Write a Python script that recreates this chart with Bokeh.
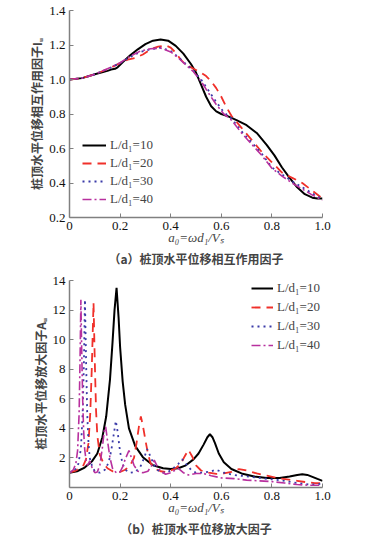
from bokeh.plotting import figure
from bokeh.models import Range1d, FixedTicker, Legend, LegendItem, Title
from bokeh.layouts import column
from bokeh.embed import file_html
from bokeh.resources import INLINE

# ---------------- data: (a) interaction factor ----------------
a10_x = [0, 0.05, 0.1, 0.15, 0.17, 0.18, 0.19, 0.21, 0.24, 0.27, 0.30, 0.33, 0.36, 0.39, 0.42, 0.45,
         0.48, 0.50, 0.52, 0.54, 0.56, 0.58, 0.60, 0.63, 0.66, 0.70, 0.74, 0.78, 0.81, 0.84, 0.87,
         0.90, 0.93, 0.96, 0.98, 1.0]
a10_y = [1.0, 1.008, 1.03, 1.05, 1.06, 1.062, 1.07, 1.1, 1.14, 1.175, 1.205, 1.225, 1.232, 1.225,
         1.195, 1.15, 1.09, 1.04, 0.97, 0.90, 0.845, 0.815, 0.80, 0.785, 0.765, 0.735, 0.69, 0.62,
         0.56, 0.49, 0.43, 0.375, 0.335, 0.315, 0.31, 0.31]

a20_x = [0, 0.05, 0.1, 0.15, 0.2, 0.23, 0.26, 0.29, 0.32, 0.35, 0.38, 0.40, 0.42, 0.44, 0.46, 0.48,
         0.50, 0.52, 0.54, 0.56, 0.58, 0.60, 0.62, 0.64, 0.68, 0.72, 0.76, 0.80, 0.84, 0.88, 0.92,
         0.96, 1.0]
a20_y = [1.0, 1.008, 1.03, 1.06, 1.095, 1.115, 1.125, 1.145, 1.175, 1.19, 1.198, 1.185, 1.155,
         1.115, 1.085, 1.07, 1.055, 1.04, 1.02, 0.99, 0.95, 0.9, 0.84, 0.79, 0.72, 0.65, 0.58,
         0.52, 0.46, 0.43, 0.40, 0.355, 0.31]

a30_x = [0, 0.05, 0.1, 0.15, 0.2, 0.24, 0.28, 0.32, 0.36, 0.40, 0.43, 0.46, 0.49, 0.52, 0.55, 0.58,
         0.61, 0.64, 0.68, 0.72, 0.76, 0.80, 0.84, 0.88, 0.92, 0.96, 1.0]
a30_y = [1.0, 1.008, 1.03, 1.06, 1.095, 1.13, 1.16, 1.175, 1.185, 1.165, 1.13, 1.09, 1.05, 1.0,
         0.935, 0.87, 0.81, 0.775, 0.70, 0.635, 0.57, 0.49, 0.45, 0.41, 0.375, 0.34, 0.305]

a40_x = [0, 0.05, 0.1, 0.15, 0.2, 0.24, 0.28, 0.32, 0.36, 0.40, 0.43, 0.46, 0.49, 0.52, 0.55, 0.58,
         0.61, 0.64, 0.68, 0.72, 0.76, 0.80, 0.84, 0.88, 0.92, 0.96, 1.0]
a40_y = [1.0, 1.008, 1.03, 1.062, 1.097, 1.135, 1.165, 1.178, 1.182, 1.16, 1.125, 1.085, 1.045,
         0.99, 0.92, 0.855, 0.80, 0.765, 0.69, 0.625, 0.56, 0.485, 0.44, 0.40, 0.365, 0.33, 0.30]

# ---------------- data: (b) amplification factor ----------------
b10_x = [0, 0.03, 0.06, 0.09, 0.11, 0.13, 0.145, 0.16, 0.17, 0.178, 0.186, 0.194, 0.20, 0.21, 0.22,
         0.235, 0.26, 0.29, 0.33, 0.37, 0.40, 0.43, 0.46, 0.49, 0.51, 0.53, 0.545, 0.555, 0.565,
         0.575, 0.59, 0.61, 0.64, 0.68, 0.73, 0.78, 0.83, 0.87, 0.90, 0.92, 0.94, 0.96, 0.98, 1.0]
b10_y = [1.0, 1.1, 1.35, 1.8, 2.3, 3.4, 4.8, 7.3, 9.8, 12.0, 13.5, 11.5, 9.5, 7.2, 5.6, 4.0, 2.8,
         2.05, 1.5, 1.3, 1.25, 1.3, 1.5, 1.9, 2.3, 2.9, 3.4, 3.6, 3.4, 3.0, 2.3, 1.7, 1.25, 0.95,
         0.75, 0.65, 0.65, 0.75, 0.85, 0.9, 0.85, 0.72, 0.58, 0.45]

b20_x = [0, 0.02, 0.04, 0.055, 0.065, 0.075, 0.082, 0.088, 0.095, 0.10, 0.105, 0.11, 0.12, 0.135,
         0.15, 0.17, 0.20, 0.22, 0.24, 0.255, 0.265, 0.275, 0.282, 0.29, 0.30, 0.31, 0.32, 0.34,
         0.36, 0.38, 0.40, 0.42, 0.44, 0.455, 0.47, 0.485, 0.50, 0.52, 0.55, 0.58, 0.61, 0.64,
         0.67, 0.70, 0.74, 0.78, 0.82, 0.86, 0.90, 0.94, 0.97, 1.0]
b20_y = [1.0, 1.1, 1.3, 1.5, 1.9, 3.0, 5.0, 8.0, 12.5, 8.5, 5.2, 3.5, 2.2, 1.6, 1.3, 1.1, 1.05, 1.2,
         1.5, 2.0, 3.0, 4.2, 4.8, 4.2, 3.2, 2.3, 1.65, 1.25, 1.1, 1.05, 1.15, 1.3, 1.6, 2.1, 2.55,
         2.1, 1.5, 1.15, 1.0, 0.92, 0.95, 1.05, 1.25, 1.15, 0.95, 0.8, 0.65, 0.55, 0.45, 0.35,
         0.3, 0.3]

b30_x = [0, 0.02, 0.035, 0.045, 0.052, 0.057, 0.061, 0.065, 0.07, 0.075, 0.08, 0.09, 0.10, 0.12,
         0.14, 0.155, 0.165, 0.175, 0.183, 0.19, 0.2, 0.21, 0.22, 0.24, 0.26, 0.28, 0.295, 0.307,
         0.32, 0.335, 0.35, 0.37, 0.39, 0.41, 0.43, 0.446, 0.46, 0.48, 0.50, 0.53, 0.56, 0.58,
         0.61, 0.65, 0.70, 0.75, 0.80, 0.85, 0.90, 0.95, 1.0]
b30_y = [1.0, 1.15, 1.6, 2.6, 5.0, 8.5, 12.7, 9.0, 5.0, 3.0, 2.0, 1.4, 1.1, 1.0, 1.2, 1.7, 2.5, 3.6,
         4.5, 3.8, 2.4, 1.6, 1.2, 1.0, 1.05, 1.4, 2.0, 2.6, 2.1, 1.5, 1.15, 1.0, 1.05, 1.3, 1.6,
         1.9, 1.6, 1.2, 1.0, 1.0, 1.1, 1.2, 1.0, 0.85, 0.75, 0.65, 0.55, 0.45, 0.3, 0.2, 0.25]

b40_x = [0, 0.015, 0.025, 0.032, 0.038, 0.042, 0.045, 0.048, 0.052, 0.056, 0.06, 0.065, 0.07,
         0.075, 0.08, 0.09, 0.10, 0.11, 0.12, 0.13, 0.137, 0.143, 0.15, 0.16, 0.17, 0.185, 0.20,
         0.21, 0.22, 0.235, 0.245, 0.255, 0.27, 0.29, 0.31, 0.325, 0.335, 0.345, 0.36, 0.38, 0.40,
         0.43, 0.45, 0.47, 0.50, 0.53, 0.56, 0.60, 0.65, 0.70, 0.75, 0.80, 0.85, 0.90, 0.95, 1.0]
b40_y = [1.0, 1.2, 1.6, 2.5, 5.0, 9.0, 12.7, 9.5, 6.0, 3.8, 2.6, 1.9, 1.5, 1.6, 1.8, 1.3, 1.0, 1.05,
         1.5, 2.7, 3.8, 4.1, 3.2, 2.0, 1.3, 1.0, 1.05, 1.4, 1.9, 2.5, 2.0, 1.5, 1.1, 1.0, 1.1, 1.5,
         1.85, 1.5, 1.1, 0.9, 1.0, 1.3, 1.0, 0.85, 0.95, 0.95, 0.8, 0.65, 0.6, 0.5, 0.45, 0.4, 0.3,
         0.2, 0.15, 0.15]

x_ticks = [0, 0.2, 0.4, 0.6, 0.8, 1.0]
x_tick_labels = ["0", "0.2", "0.4", "0.6", "0.8", "1.0"]
ya_ticks = [0.2, 0.4, 0.6, 0.8, 1.0, 1.2, 1.4]
ya_tick_labels = ["0.2", "0.4", "0.6", "0.8", "1.0", "1.2", "1.4"]
yb_ticks = [2, 4, 6, 8, 10, 12, 14]
yb_tick_labels = ["2", "4", "6", "8", "10", "12", "14"]
labels = ["L/d\u2081=10", "L/d\u2081=20", "L/d\u2081=30", "L/d\u2081=40"]

# styles
styles = [
    dict(color="#000000", line_width=2.0, line_dash="solid"),
    dict(color="#f0302a", line_width=1.8, line_dash="9 6"),
    dict(color="#3a3aa8", line_width=1.8, line_dash="2 4"),
    dict(color="#b8309e", line_width=1.6, line_dash="9 3 2 3"),
]

SERIF = "Liberation Serif"
CJK = "Noto Sans CJK SC"


def make_fig(yr, yticks, ylabels, ylabel, caption, top):
    p = figure(frame_width=253, frame_height=207, output_backend="svg", toolbar_location=None,
               x_range=Range1d(0, 1), y_range=Range1d(*yr),
               min_border_left=69, min_border_right=20, min_border_top=top, min_border_bottom=0)
    p.outline_line_color = None
    p.grid.visible = False
    p.background_fill_color = "white"
    for ax in (p.xaxis[0], p.yaxis[0]):
        ax.axis_line_color = "#808080"
        ax.axis_line_width = 1.5
        ax.major_tick_line_color = "#808080"
        ax.major_tick_in = 4
        ax.major_tick_out = 0
        ax.minor_tick_line_color = None
        ax.major_label_text_font = SERIF
        ax.major_label_text_font_size = "13px"
        ax.major_label_text_color = "#111111"
    p.xaxis.ticker = FixedTicker(ticks=x_ticks)
    p.xaxis.major_label_overrides = dict(zip(x_ticks, x_tick_labels))
    p.xaxis.major_label_standoff = 4
    p.yaxis.ticker = FixedTicker(ticks=yticks)
    p.yaxis.major_label_overrides = dict(zip(yticks, ylabels))
    p.yaxis.major_label_standoff = 4
    p.xaxis.axis_label = "a\u2080=\u03c9d\u2081/V\u209b"
    p.xaxis.axis_label_text_font = SERIF
    p.xaxis.axis_label_text_font_style = "italic"
    p.xaxis.axis_label_text_font_size = "13px"
    p.xaxis.axis_label_standoff = -3
    p.yaxis.axis_label = ylabel
    p.yaxis.axis_label_text_font = CJK
    p.yaxis.axis_label_text_font_style = "bold"
    p.yaxis.axis_label_text_font_size = "12px"
    p.yaxis.axis_label_standoff = 1
    t = Title(text=caption, align="center", text_font=CJK, text_font_size="12px",
              text_font_style="bold", standoff=0, offset=0)
    p.add_layout(t, "below")
    return p


pa = make_fig((0.2, 1.4), ya_ticks, ya_tick_labels, "桩顶水平位移相互作用因子I\u1d64",
              "（a）桩顶水平位移相互作用因子", 10)
pb = make_fig((0, 14), yb_ticks, yb_tick_labels, "桩顶水平位移放大因子A\u1d64",
              "（b）桩顶水平位移放大因子", 14)

ra = [pa.line(x, y, **st) for (x, y), st in zip(
    [(a10_x, a10_y), (a20_x, a20_y), (a30_x, a30_y), (a40_x, a40_y)], styles)]
rb = [pb.line(x, y, **st) for (x, y), st in zip(
    [(b10_x, b10_y), (b20_x, b20_y), (b30_x, b30_y), (b40_x, b40_y)], styles)]


def add_legend(p, rs, loc, spacing, gw):
    lg = Legend(items=[LegendItem(label=l, renderers=[r]) for l, r in zip(labels, rs)],
                location=loc, glyph_width=gw, glyph_height=16, label_height=16,
                spacing=spacing, padding=0, margin=0, background_fill_alpha=0,
                border_line_color=None, label_text_font=SERIF, label_text_font_size="13px",
                label_standoff=4)
    p.add_layout(lg)


add_legend(pa, ra, (13, 10), 2, 24)
add_legend(pb, rb, (182, 134), 3, 22)

layout = column(pa, pb, spacing=0)
open("out.html", "w").write(file_html(layout, INLINE))
